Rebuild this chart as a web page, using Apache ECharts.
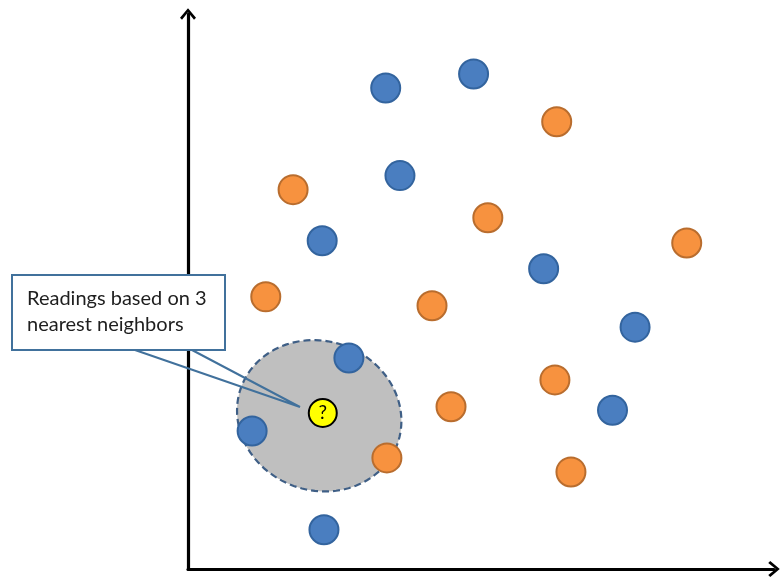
<!DOCTYPE html>
<html><head><meta charset="utf-8">
<script src="https://cdn.jsdelivr.net/npm/echarts@6/dist/echarts.min.js"></script>
<style>html,body{margin:0;padding:0;background:#fff}#c{width:782px;height:578px}</style>
</head><body><div id="c"></div>
<script>
// Class A (blue) points
const blueX = [3.33, 4.81, 3.57, 2.26, 5.99, 7.53, 2.71, 7.15, 1.08, 2.29];
const blueY = [8.57, 8.82, 7.01, 5.85, 5.35, 4.31, 3.76, 2.83, 2.46, 0.70];
// Class B (orange) points
const orangeX = [6.21, 1.77, 5.05, 8.40, 1.31, 4.11, 6.18, 4.43, 3.35, 6.45];
const orangeY = [7.97, 6.76, 6.26, 5.81, 4.85, 4.69, 3.37, 2.89, 1.98, 1.73];
// Unknown query point
const queryPoint = [2.27, 2.78];
// Neighbourhood region (center x, center y, radius x, radius y)
const hoodCenter = [2.21, 2.73];
const hoodRadius = [1.40, 1.33];
const hoodTilt = 20; // degrees
const calloutText = ['Readings based on 3', 'nearest neighbors'];

const zip = (xs, ys) => xs.map((x, i) => [x, ys[i]]);
const chevron = 'path://M8 0 L16 9.5 L14 11.5 L8 4 L2 11.5 L0 9.5 Z';

const chart = echarts.init(document.getElementById('c'));
chart.setOption({
  animation: false,
  backgroundColor: '#fff',
  grid: { left: 188, right: 8, top: 14, bottom: 9 },
  xAxis: {
    type: 'value', min: 0, max: 9.87,
    axisLine: { show: true, lineStyle: { color: '#000', width: 3.2 }, symbol: ['none', chevron], symbolSize: [16, 12] },
    axisTick: { show: false }, axisLabel: { show: false }, splitLine: { show: false }
  },
  yAxis: {
    type: 'value', min: 0, max: 9.89,
    axisLine: { show: true, lineStyle: { color: '#000', width: 3.2 }, symbol: ['none', chevron], symbolSize: [16, 12] },
    axisTick: { show: false }, axisLabel: { show: false }, splitLine: { show: false }
  },
  series: [
    {
      type: 'custom', z: 1, clip: false,
      data: [[hoodCenter[0], hoodCenter[1], hoodRadius[0], hoodRadius[1]]],
      renderItem: function (params, api) {
        const c = api.coord([api.value(0), api.value(1)]);
        const s = api.size([api.value(2), api.value(3)]);
        const t = hoodTilt * Math.PI / 180;
        const pts = [];
        for (let i = 0; i < 120; i++) {
          const a = i / 120 * Math.PI * 2;
          const ex = s[0] * Math.cos(a), ey = s[1] * Math.sin(a);
          pts.push([c[0] + ex * Math.cos(t) - ey * Math.sin(t), c[1] + ex * Math.sin(t) + ey * Math.cos(t)]);
        }
        return {
          type: 'polygon', shape: { points: pts },
          style: { fill: '#BFBFBF', stroke: '#3F5F86', lineWidth: 2.2, lineDash: [7, 4] }
        };
      }
    },
    {
      type: 'scatter', z: 3, symbolSize: 29,
      data: zip(blueX, blueY),
      itemStyle: { color: '#4A7EC0', borderColor: '#33649E', borderWidth: 2, opacity: 1 }
    },
    {
      type: 'scatter', z: 3, symbolSize: 29,
      data: zip(orangeX, orangeY),
      itemStyle: { color: '#F7923F', borderColor: '#B96D2E', borderWidth: 2, opacity: 1 }
    },
    {
      type: 'scatter', z: 4, symbolSize: 28,
      data: [queryPoint],
      itemStyle: { color: '#FFFF00', borderColor: '#000', borderWidth: 2, opacity: 1 },
      label: { show: true, position: 'inside', formatter: '?', color: '#000', fontSize: 19, fontFamily: 'Lato' }
    }
  ],
  graphic: [
    {
      type: 'polyline', z: 100,
      shape: { points: [[135, 350], [300, 407], [192, 350]] },
      style: { fill: null, stroke: '#41719C', lineWidth: 2 }
    },
    {
      type: 'rect', z: 100,
      shape: { x: 12, y: 275, width: 213, height: 75 },
      style: { fill: '#fff', stroke: '#41719C', lineWidth: 2 }
    },
    {
      type: 'text', z: 101, left: 27, top: 286,
      style: { text: calloutText.join('\n'), fill: '#1E1E1E', font: '20px Lato', lineHeight: 26 }
    }
  ]
});
</script></body></html>
